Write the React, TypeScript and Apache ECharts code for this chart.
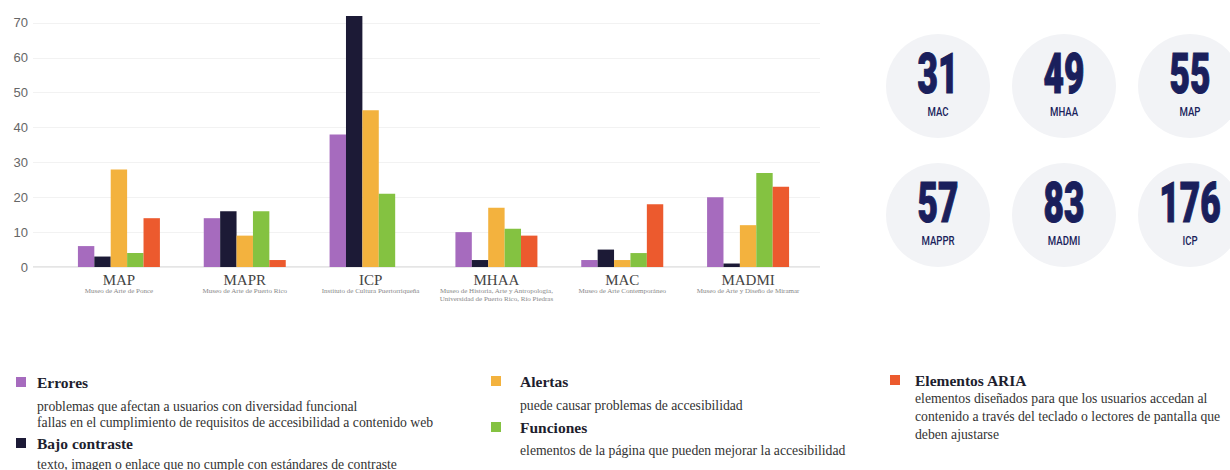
import React, { useEffect, useRef } from "react";
import * as echarts from "echarts";

const categories = ["MAP", "MAPR", "ICP", "MHAA", "MAC", "MADMI"];
const categorySubtitles = [
  "Museo de Arte de Ponce",
  "Museo de Arte de Puerto Rico",
  "Instituto de Cultura Puertorriqueña",
  "Museo de Historia, Arte y Antropología,\nUniversidad de Puerto Rico, Río Piedras",
  "Museo de Arte Contemporáneo",
  "Museo de Arte y Diseño de Miramar",
];
const seriesNames = ["Errores", "Bajo contraste", "Alertas", "Funciones", "Elementos ARIA"];
const errores = [6, 14, 38, 10, 2, 20];
const bajoContraste = [3, 16, 72, 2, 5, 1];
const alertas = [28, 9, 45, 17, 2, 12];
const funciones = [4, 16, 21, 11, 4, 27];
const elementosAria = [14, 2, 0, 9, 18, 23];
const seriesColors = ["#A66BBE", "#1C1A36", "#F3B23E", "#84C241", "#EC5A2E"];
const yTicks = [0, 10, 20, 30, 40, 50, 60, 70];

const totalValues = ["31", "49", "55", "57", "83", "176"];
const totalLabels = ["MAC", "MHAA", "MAP", "MAPPR", "MADMI", "ICP"];

const legendDescriptions = [
  ["problemas que afectan a usuarios con diversidad funcional", "fallas en el cumplimiento de requisitos de accesibilidad a contenido web"],
  ["texto, imagen o enlace que no cumple con estándares de contraste"],
  ["puede causar problemas de accesibilidad"],
  ["elementos de la página que pueden mejorar la accesibilidad"],
  ["elementos diseñados para que los usuarios accedan al", "contenido a través del teclado o lectores de pantalla que", "deben ajustarse"],
];

export default function App() {
  const ref = useRef<HTMLDivElement>(null);
  useEffect(() => {
    if (!ref.current) return;
    const chart = echarts.init(ref.current, null, { renderer: "svg" });
    const data = [errores, bajoContraste, alertas, funciones, elementosAria];

    const graphics: any[] = [];
    const circlePos = [
      [938, 86], [1064, 86], [1190, 86],
      [938, 215], [1064, 215], [1190, 215],
    ];
    totalValues.forEach((v, i) => {
      const [cx, cy] = circlePos[i];
      graphics.push({
        type: "circle",
        shape: { cx, cy, r: 52 },
        style: { fill: "#F2F3F6" },
        silent: true,
      });
      graphics.push({
        type: "text",
        x: cx,
        y: cy - 12,
        scaleX: 0.63,
        style: {
          text: v,
          fontFamily: "Roboto",
          fontWeight: 900,
          fontSize: 56,
          fill: "#1A1F5C",
          stroke: "#1A1F5C",
          lineWidth: 1.2,
          textAlign: "center",
          textVerticalAlign: "middle",
        },
      });
      graphics.push({
        type: "text",
        x: cx,
        y: cy + 25,
        scaleX: 0.74,
        style: {
          text: totalLabels[i],
          fontFamily: "Roboto",
          fontWeight: 500,
          fontSize: 13,
          fill: "#1A1F5C",
          textAlign: "center",
          textVerticalAlign: "middle",
        },
      });
    });

    const legendPos = [
      { x: 16, tx: 37, y: 382, dy: [406, 422] },
      { x: 16, tx: 37, y: 443, dy: [464] },
      { x: 491, tx: 520, y: 381, dy: [405] },
      { x: 491, tx: 520, y: 427, dy: [450] },
      { x: 890, tx: 915, y: 380, dy: [398, 416, 434] },
    ];
    seriesNames.forEach((name, i) => {
      const p = legendPos[i];
      graphics.push({
        type: "rect",
        shape: { x: p.x, y: p.y - 5, width: 10, height: 10 },
        style: { fill: seriesColors[i] },
      });
      graphics.push({
        type: "text",
        x: p.tx,
        y: p.y,
        style: {
          text: name,
          fontFamily: "Liberation Serif",
          fontWeight: "bold",
          fontSize: 15.5,
          fill: "#1E1E2E",
          textVerticalAlign: "middle",
        },
      });
      legendDescriptions[i].forEach((line, j) => {
        graphics.push({
          type: "text",
          x: p.tx,
          y: p.dy[j],
          style: {
            text: line,
            fontFamily: "Liberation Serif",
            fontSize: 13.7,
            fill: "#333333",
            textVerticalAlign: "middle",
          },
        });
      });
    });

    chart.setOption({
      animation: false,
      grid: [
        { left: 33, right: 410, top: 16, bottom: 203 },
        { left: 56, right: 419, top: 16, bottom: 203 },
      ],
      xAxis: [
        {
          type: "value",
          gridIndex: 0,
          min: 0,
          max: 1,
          axisLabel: { show: false },
          axisTick: { show: false },
          splitLine: { show: false },
          axisLine: { show: false },
        },
        {
          type: "category",
          gridIndex: 1,
          data: categories,
          axisTick: { show: false },
          axisLine: { show: false },
          axisLabel: {
            margin: 5,
            interval: 0,
            formatter: (val: string, idx: number) =>
              `{a|${val}}\n{b|${categorySubtitles[idx].split("\n").join("}\n{b|")}}`,
            rich: {
              a: { fontFamily: "Liberation Serif", fontSize: 15, color: "#444444", lineHeight: 15, align: "center" },
              b: { fontFamily: "Liberation Serif", fontSize: 7, color: "#888888", lineHeight: 8, align: "center" },
            },
          },
        },
      ],
      yAxis: [
        {
          type: "value",
          gridIndex: 0,
          min: 0,
          max: 72,
          interval: 10,
          axisLine: { show: false },
          axisTick: { show: false },
          axisLabel: { show: false },
          splitLine: { show: true, showMaxLine: false, showMinLine: false, lineStyle: { color: "#F2F2F2" } },
        },
        {
          type: "value",
          gridIndex: 1,
          min: 0,
          max: 72,
          interval: 10,
          axisLine: { show: false },
          axisTick: { show: false },
          splitLine: { show: false },
          axisLabel: {
            margin: 28,
            fontFamily: "Liberation Sans",
            fontSize: 13,
            color: "#666666",
            formatter: (v: number) => (yTicks.includes(v) ? String(v) : ""),
          },
        },
      ],
      series: [
        {
          type: "line",
          xAxisIndex: 0,
          yAxisIndex: 0,
          data: [[0, 0], [1, 0]],
          symbol: "none",
          silent: true,
          lineStyle: { color: "#DDDDDD", width: 1.5 },
          z: 1,
        },
        ...seriesNames.map((name, i) => ({
          type: "bar",
          name,
          xAxisIndex: 1,
          yAxisIndex: 1,
          data: data[i],
          barWidth: 16.4,
          barGap: "0%",
          itemStyle: { color: seriesColors[i] },
          z: 2,
        })),
      ],
      graphic: graphics,
    });
    return () => chart.dispose();
  }, []);
  return (
    <div
      ref={ref}
      style={{ position: "fixed", left: 0, top: 0, width: 1230, height: 470, background: "#fff" }}
    />
  );
}
